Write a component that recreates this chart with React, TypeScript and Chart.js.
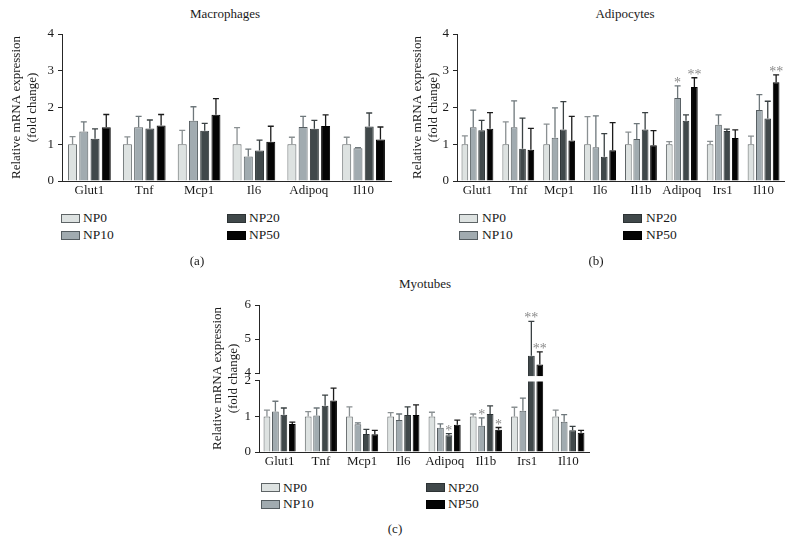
import React, { useEffect, useRef } from 'react';
import { Chart, registerables, LinearScale } from 'chart.js';

Chart.register(...registerables);

// ---------- data ----------
const seriesNames = ['NP0', 'NP10', 'NP20', 'NP50'];

const macroGenes = ['Glut1', 'Tnf', 'Mcp1', 'Il6', 'Adipoq', 'Il10'];
const macroNP0 = [1, 1, 1, 1, 1, 1];
const macroNP10 = [1.35, 1.46, 1.64, 0.67, 1.47, 0.89];
const macroNP20 = [1.15, 1.43, 1.37, 0.83, 1.42, 1.48];
const macroNP50 = [1.46, 1.51, 1.8, 1.07, 1.5, 1.13];
const macroNP0Sd = [0.21, 0.2, 0.38, 0.45, 0.19, 0.19];
const macroNP10Sd = [0.26, 0.3, 0.38, 0.2, 0.29, 0.02];
const macroNP20Sd = [0.27, 0.23, 0.2, 0.28, 0.23, 0.37];
const macroNP50Sd = [0.35, 0.3, 0.44, 0.42, 0.3, 0.34];

const adipoGenes = ['Glut1', 'Tnf', 'Mcp1', 'Il6', 'Il1b', 'Adipoq', 'Irs1', 'Il10'];
const adipoNP0 = [1, 1, 1, 1, 1, 1, 1, 1];
const adipoNP10 = [1.46, 1.46, 1.18, 0.92, 1.14, 2.26, 1.53, 1.93];
const adipoNP20 = [1.38, 0.88, 1.4, 0.66, 1.4, 1.64, 1.36, 1.7];
const adipoNP50 = [1.42, 0.85, 1.1, 0.84, 0.97, 2.56, 1.17, 2.69];
const adipoNP0Sd = [0.23, 0.61, 0.55, 0.75, 0.33, 0.07, 0.08, 0.22];
const adipoNP10Sd = [0.47, 0.72, 0.81, 0.85, 0.42, 0.33, 0.27, 0.42];
const adipoNP20Sd = [0.27, 0.83, 0.76, 0.63, 0.46, 0.16, 0.05, 0.47];
const adipoNP50Sd = [0.44, 0.58, 0.66, 0.75, 0.4, 0.25, 0.22, 0.2];
const adipoSigNP0 = ['', '', '', '', '', '', '', ''];
const adipoSigNP10 = ['', '', '', '', '', '*', '', ''];
const adipoSigNP20 = ['', '', '', '', '', '', '', ''];
const adipoSigNP50 = ['', '', '', '', '', '**', '', '**'];

const myoGenes = ['Glut1', 'Tnf', 'Mcp1', 'Il6', 'Adipoq', 'Il1b', 'Irs1', 'Il10'];
const myoNP0 = [1, 1, 1, 1, 1, 1, 1, 1];
const myoNP10 = [1.14, 1.03, 0.78, 0.9, 0.68, 0.74, 1.16, 0.85];
const myoNP20 = [1.05, 1.3, 0.51, 1.04, 0.47, 1.07, 4.51, 0.61];
const myoNP50 = [0.79, 1.45, 0.5, 1.04, 0.77, 0.63, 4.25, 0.54];
const myoNP0Sd = [0.18, 0.14, 0.27, 0.11, 0.12, 0.07, 0.26, 0.18];
const myoNP10Sd = [0.29, 0.21, 0.04, 0.17, 0.11, 0.22, 0.36, 0.2];
const myoNP20Sd = [0.19, 0.3, 0.13, 0.23, 0.05, 0.23, 1.01, 0.11];
const myoNP50Sd = [0.05, 0.35, 0.11, 0.29, 0.13, 0.06, 0.37, 0.07];
const myoSigNP0 = ['', '', '', '', '', '', '', ''];
const myoSigNP10 = ['', '', '', '', '', '*', '', ''];
const myoSigNP20 = ['', '', '', '', '*', '', '**', ''];
const myoSigNP50 = ['', '', '', '', '', '*', '**', ''];

const yTicksStd = [0, 1, 2, 3, 4];
const yTicksBroken = [0, 1, 2, 4, 5, 6];

// ---------- styles ----------
const FONT = '"Liberation Serif", "Times New Roman", serif';
const fills = ['#dde2e1', '#a1abb0', '#40484a', '#040404'];
const borders = ['#5e6466', '#555d61', '#2c3234', '#000000'];
const errColors = ['#8a9092', '#6e777b', '#3a4143', '#1c1c1c'];
const AXIS = '#262626';

// ---------- broken linear scale ----------
class BrokenScale extends LinearScale {
  static id = 'broken';
  static defaults = LinearScale.defaults;
  getPixelForValue(value: number) {
    if (value === null || value === undefined) return NaN;
    const fl = 0.483, fg = 0.054, fu = 0.463;
    let d: number;
    if (value <= 2) d = (value / 2) * fl;
    else if (value < 4) d = fl + ((value - 2) / 2) * fg;
    else d = fl + fg + ((value - 4) / 2) * fu;
    return this.getPixelForDecimal(d);
  }
  getValueForPixel(pixel: number) {
    const fl = 0.483, fg = 0.054, fu = 0.463;
    const d = this.getDecimalForPixel(pixel);
    if (d <= fl) return (d / fl) * 2;
    if (d < fl + fg) return 2 + ((d - fl) / fg) * 2;
    return 4 + ((d - fl - fg) / fu) * 2;
  }
}
Chart.register(BrokenScale as any);

// ---------- plugins ----------
const errorBarPlugin = {
  id: 'errbars',
  afterDatasetsDraw(chart: any, _args: any, opts: any) {
    const { ctx } = chart;
    const y = chart.scales.y;
    chart.data.datasets.forEach((ds: any, i: number) => {
      const meta = chart.getDatasetMeta(i);
      meta.data.forEach((bar: any, j: number) => {
        const v = ds.data[j];
        const sd = opts.sd[i][j];
        const top = y.getPixelForValue(v + sd);
        ctx.save();
        ctx.strokeStyle = errColors[i];
        ctx.lineWidth = 1.3;
        ctx.beginPath();
        ctx.moveTo(bar.x, bar.y);
        ctx.lineTo(bar.x, top);
        ctx.moveTo(bar.x - 3, top);
        ctx.lineTo(bar.x + 3, top);
        ctx.stroke();
        const s = opts.sig ? opts.sig[i][j] : '';
        if (s) {
          ctx.fillStyle = '#8a8a8a';
          ctx.font = '14px ' + FONT;
          ctx.textAlign = 'center';
          ctx.textBaseline = 'alphabetic';
          ctx.fillText(s, bar.x, top + 1);
        }
        ctx.restore();
      });
    });
  },
};

const breakPlugin = {
  id: 'axisbreak',
  afterDraw(chart: any, _args: any, opts: any) {
    if (!opts || !opts.enabled) return;
    const y = chart.scales.y;
    const { ctx, chartArea } = chart;
    const p2 = y.getPixelForValue(2);
    const p4 = y.getPixelForValue(4);
    ctx.save();
    ctx.fillStyle = '#ffffff';
    ctx.fillRect(chartArea.left + 1, p4 + 3, chartArea.right - chartArea.left, p2 - p4 - 2.5);
    ctx.fillRect(chartArea.left - 1.5, p4 + 1, 3, p2 - p4 - 2);
    ctx.restore();
  },
};

type PanelProps = {
  left: number; top: number; width: number; height: number;
  labels: string[];
  values: number[][];
  sds: number[][];
  sigs?: string[][];
  yw: number; xh: number; padTop: number; padRight: number; titlePad: number;
  max: number; ticks: number[]; broken?: boolean;
};

function Panel(p: PanelProps) {
  const ref = useRef<HTMLCanvasElement>(null);
  useEffect(() => {
    if (!ref.current) return;
    const chart = new Chart(ref.current, {
      type: 'bar',
      data: {
        labels: p.labels,
        datasets: p.values.map((vals, i) => ({
          label: seriesNames[i],
          data: vals,
          backgroundColor: fills[i],
          borderColor: borders[i],
          borderWidth: 1,
          barPercentage: 0.8,
          categoryPercentage: 0.82,
        })),
      },
      options: {
        responsive: false,
        animation: false,
        events: [],
        layout: { padding: { top: p.padTop, right: p.padRight, left: 0, bottom: 0 } },
        plugins: {
          legend: { display: false },
          tooltip: { enabled: false },
          title: { display: false },
          errbars: { sd: p.sds, sig: p.sigs },
          axisbreak: { enabled: !!p.broken },
        } as any,
        scales: {
          x: {
            type: 'category',
            offset: true,
            grid: { display: false, drawTicks: false, tickLength: 0 },
            border: { display: true, color: AXIS, width: 1 },
            ticks: { color: '#1a1a1a', font: { family: FONT, size: 13 }, padding: 2, maxRotation: 0, autoSkip: false },
            afterFit: (s: any) => { s.height = p.xh; },
          },
          y: {
            type: p.broken ? 'broken' : 'linear',
            min: 0,
            max: p.max,
            afterBuildTicks: (s: any) => { s.ticks = p.ticks.map((v) => ({ value: v })); },
            ticks: { color: '#1a1a1a', font: { family: FONT, size: 13 }, padding: 4 },
            grid: { display: true, drawOnChartArea: false, drawTicks: true, tickLength: 4, color: AXIS },
            border: { display: true, color: AXIS, width: 1 },
            title: {
              display: true,
              text: ['Relative mRNA expression', '(fold change)'],
              color: '#1a1a1a',
              font: { family: FONT, size: 13, lineHeight: 1.2 },
              padding: { top: p.titlePad, bottom: 0 },
            },
            afterFit: (s: any) => { s.width = p.yw; },
          } as any,
        },
      },
      plugins: [errorBarPlugin, breakPlugin],
    });
    return () => chart.destroy();
  }, []);
  return (
    <canvas
      ref={ref}
      width={p.width}
      height={p.height}
      style={{ position: 'absolute', left: p.left, top: p.top, width: p.width, height: p.height }}
    />
  );
}

function Text({ cx, cy, children, size = 13 }: { cx: number; cy: number; children: any; size?: number }) {
  return (
    <div
      style={{
        position: 'absolute', left: cx - 100, top: cy - 10, width: 200, height: 20, lineHeight: '20px',
        textAlign: 'center', fontFamily: FONT, fontSize: size, color: '#1a1a1a', whiteSpace: 'nowrap',
      }}
    >
      {children}
    </div>
  );
}

function Legend({ x1, x2, y1, y2, tx }: { x1: number; x2: number; y1: number; y2: number; tx: number }) {
  const items = [
    { x: x1, y: y1, i: 0 },
    { x: x1, y: y2, i: 1 },
    { x: x2, y: y1, i: 2 },
    { x: x2, y: y2, i: 3 },
  ];
  return (
    <>
      {items.map((it) => (
        <React.Fragment key={it.i}>
          <div
            style={{
              position: 'absolute', left: it.x, top: it.y - 4.5, width: 17, height: 7,
              background: fills[it.i], border: '1px solid ' + borders[it.i],
            }}
          />
          <div
            style={{
              position: 'absolute', left: it.x + tx, top: it.y - 10, height: 20, lineHeight: '20px',
              fontFamily: FONT, fontSize: 13.5, color: '#1a1a1a', whiteSpace: 'nowrap',
            }}
          >
            {seriesNames[it.i]}
          </div>
        </React.Fragment>
      ))}
    </>
  );
}

export default function App() {
  return (
    <div style={{ position: 'absolute', left: 0, top: 0, width: 796, height: 556, background: '#fff', overflow: 'hidden' }}>
      <Text cx={225} cy={14}>Macrophages</Text>
      <Text cx={625} cy={14}>Adipocytes</Text>
      <Text cx={425} cy={284}>Myotubes</Text>

      <Panel
        left={0} top={0} width={400} height={200}
        labels={macroGenes}
        values={[macroNP0, macroNP10, macroNP20, macroNP50]}
        sds={[macroNP0Sd, macroNP10Sd, macroNP20Sd, macroNP50Sd]}
        yw={62} xh={19} padTop={34} padRight={9} titlePad={9}
        max={4} ticks={yTicksStd}
      />
      <Panel
        left={396} top={0} width={400} height={200}
        labels={adipoGenes}
        values={[adipoNP0, adipoNP10, adipoNP20, adipoNP50]}
        sds={[adipoNP0Sd, adipoNP10Sd, adipoNP20Sd, adipoNP50Sd]}
        sigs={[adipoSigNP0, adipoSigNP10, adipoSigNP20, adipoSigNP50]}
        yw={61} xh={19} padTop={34} padRight={12} titlePad={14}
        max={4} ticks={yTicksStd}
      />
      <Panel
        left={180} top={270} width={420} height={200}
        labels={myoGenes}
        values={[myoNP0, myoNP10, myoNP20, myoNP50]}
        sds={[myoNP0Sd, myoNP10Sd, myoNP20Sd, myoNP50Sd]}
        sigs={[myoSigNP0, myoSigNP10, myoSigNP20, myoSigNP50]}
        yw={79} xh={18} padTop={35} padRight={11} titlePad={30}
        max={6} ticks={yTicksBroken} broken
      />

      <Legend x1={61} x2={227} y1={218} y2={235} tx={22} />
      <Legend x1={459} x2={623} y1={218} y2={235} tx={23} />
      <Legend x1={261} x2={426} y1={487.5} y2={504} tx={22} />

      <Text cx={197} cy={261}>(a)</Text>
      <Text cx={596} cy={261}>(b)</Text>
      <Text cx={395} cy={529}>(c)</Text>
    </div>
  );
}
